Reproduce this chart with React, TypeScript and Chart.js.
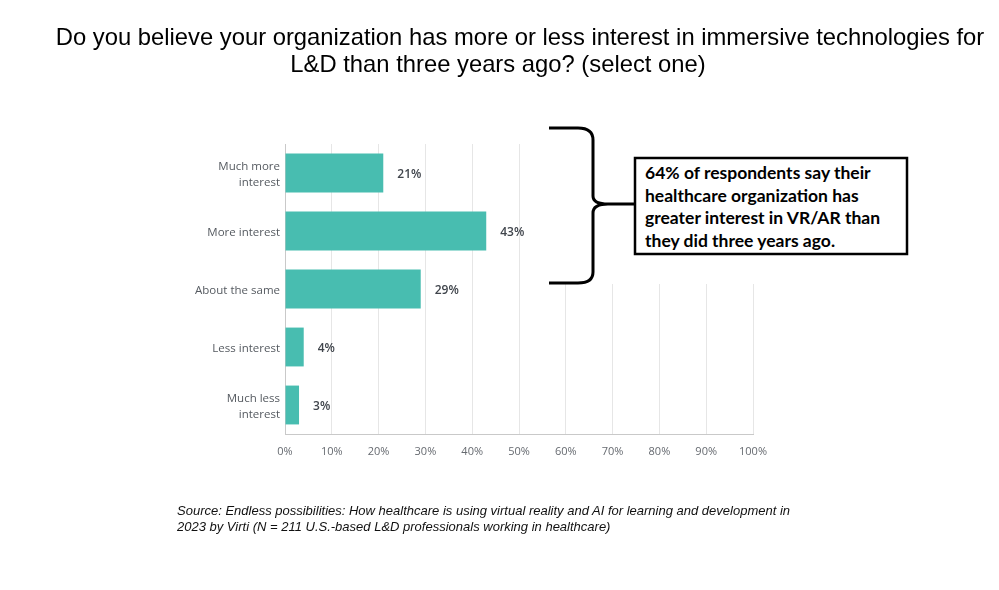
import React, { useEffect, useRef } from "react";
import { Chart, registerables } from "chart.js";

Chart.register(...registerables);

const categories: (string | string[])[] = [
  ["Much more", "interest"],
  "More interest",
  "About the same",
  "Less interest",
  ["Much less", "interest"],
];
const values: number[] = [21, 43, 29, 4, 3];
const xTickStep = 10;
const xMax = 100;

const titleLines = [
  "Do you believe your organization has more or less interest in immersive technologies for",
  "L&D than three years ago? (select one)",
];
const calloutLines = [
  "64% of respondents say their",
  "healthcare organization has",
  "greater interest in VR/AR than",
  "they did three years ago.",
];
const sourceLines = [
  "Source: Endless possibilities: How healthcare is using virtual reality and AI for learning and development in",
  "2023 by Virti (N = 211 U.S.-based L&D professionals working in healthcare)",
];

const BAR_COLOR = "#48bdb0";

const valueLabelPlugin = {
  id: "valueLabels",
  afterDatasetsDraw(chart: any) {
    const ctx = chart.ctx;
    const meta = chart.getDatasetMeta(0);
    ctx.save();
    ctx.font = "600 12px 'Open Sans'";
    ctx.fillStyle = "#40454c";
    ctx.textAlign = "left";
    ctx.textBaseline = "middle";
    meta.data.forEach((el: any, i: number) => {
      ctx.fillText(`${values[i]}%`, el.x + 14, el.y + 2);
    });
    ctx.restore();
  },
};

export default function App() {
  const ref = useRef<HTMLCanvasElement | null>(null);

  useEffect(() => {
    if (!ref.current) return;
    const chart = new Chart(ref.current, {
      type: "bar",
      data: {
        labels: categories as any,
        datasets: [
          {
            data: values,
            backgroundColor: BAR_COLOR,
            borderWidth: 0,
            barPercentage: 0.67,
            categoryPercentage: 1.0,
          },
        ],
      },
      options: {
        indexAxis: "y",
        animation: false,
        responsive: false,
        maintainAspectRatio: false,
        devicePixelRatio: 1,
        layout: { padding: { top: 144, right: 246, bottom: 126, left: 0 } },
        plugins: {
          legend: { display: false },
          tooltip: { enabled: false },
          title: { display: false },
        },
        scales: {
          x: {
            min: 0,
            max: xMax,
            afterFit: (s: any) => {
              s.height = 30;
            },
            ticks: {
              stepSize: xTickStep,
              padding: 11,
              color: "#666a70",
              font: { family: "'Open Sans'", size: 11 },
              callback: (v: any) => `${v}%`,
              maxRotation: 0,
            },
            grid: { color: "#e6e6e6", drawTicks: false, lineWidth: 1 },
            border: { color: "#c9c9c9", width: 1 },
          },
          y: {
            afterFit: (s: any) => {
              s.width = 285;
            },
            ticks: {
              padding: 5,
              labelOffset: 2,
              color: "#555a60",
              font: { family: "'Open Sans'", size: 11.5, lineHeight: 1.4 },
            },
            grid: { display: false, drawTicks: false },
            border: { color: "#c9c9c9", width: 1 },
          },
        },
      },
      plugins: [valueLabelPlugin],
    });
    return () => chart.destroy();
  }, []);

  return (
    <div
      style={{
        position: "absolute",
        left: 0,
        top: 0,
        width: 999,
        height: 590,
        background: "#fff",
        overflow: "hidden",
      }}
    >
      <canvas
        ref={ref}
        width={999}
        height={590}
        style={{ position: "absolute", left: 0, top: 0, width: 999, height: 590 }}
      />
      {/* white backdrop of the annotation */}
      <div
        style={{
          position: "absolute",
          left: 545,
          top: 118,
          width: 445,
          height: 166,
          background: "#fff",
        }}
      />
      <svg
        width={999}
        height={590}
        style={{ position: "absolute", left: 0, top: 0 }}
      >
        <path
          d="M549,128 H578 Q593,128 593,140 V196 Q593,204 608,204 H635 M608,204 Q593,204 593,213 V272 Q593,283 578,283 H549"
          fill="none"
          stroke="#000"
          strokeWidth={3}
        />
        <rect x={635} y={158} width={272} height={96} fill="#fff" stroke="#000" strokeWidth={2.5} />
      </svg>
      {calloutLines.map((t, i) => (
        <div
          key={i}
          style={{
            position: "absolute",
            left: 645,
            top: 173 + i * 22.5 - 11,
            height: 22,
            lineHeight: "22px",
            fontFamily: "Lato, 'Liberation Sans', sans-serif",
            fontWeight: 700,
            fontSize: 17.5,
            color: "#000",
            whiteSpace: "nowrap",
          }}
        >
          {t}
        </div>
      ))}
      {titleLines.map((t, i) => (
        <div
          key={i}
          style={{
            position: "absolute",
            left: (i === 0 ? 520 : 498) - 500,
            width: 1000,
            top: 22.5 + i * 27,
            lineHeight: "27px",
            textAlign: "center",
            fontFamily: "'Liberation Sans', Arial, sans-serif",
            fontSize: 23.8,
            color: "#000",
            whiteSpace: "nowrap",
          }}
        >
          {t}
        </div>
      ))}
      {sourceLines.map((t, i) => (
        <div
          key={i}
          style={{
            position: "absolute",
            left: 177,
            top: 503 + i * 16,
            lineHeight: "16px",
            fontFamily: "'Liberation Sans', Arial, sans-serif",
            fontStyle: "italic",
            fontSize: 13,
            color: "#111",
            whiteSpace: "nowrap",
          }}
        >
          {t}
        </div>
      ))}
    </div>
  );
}
